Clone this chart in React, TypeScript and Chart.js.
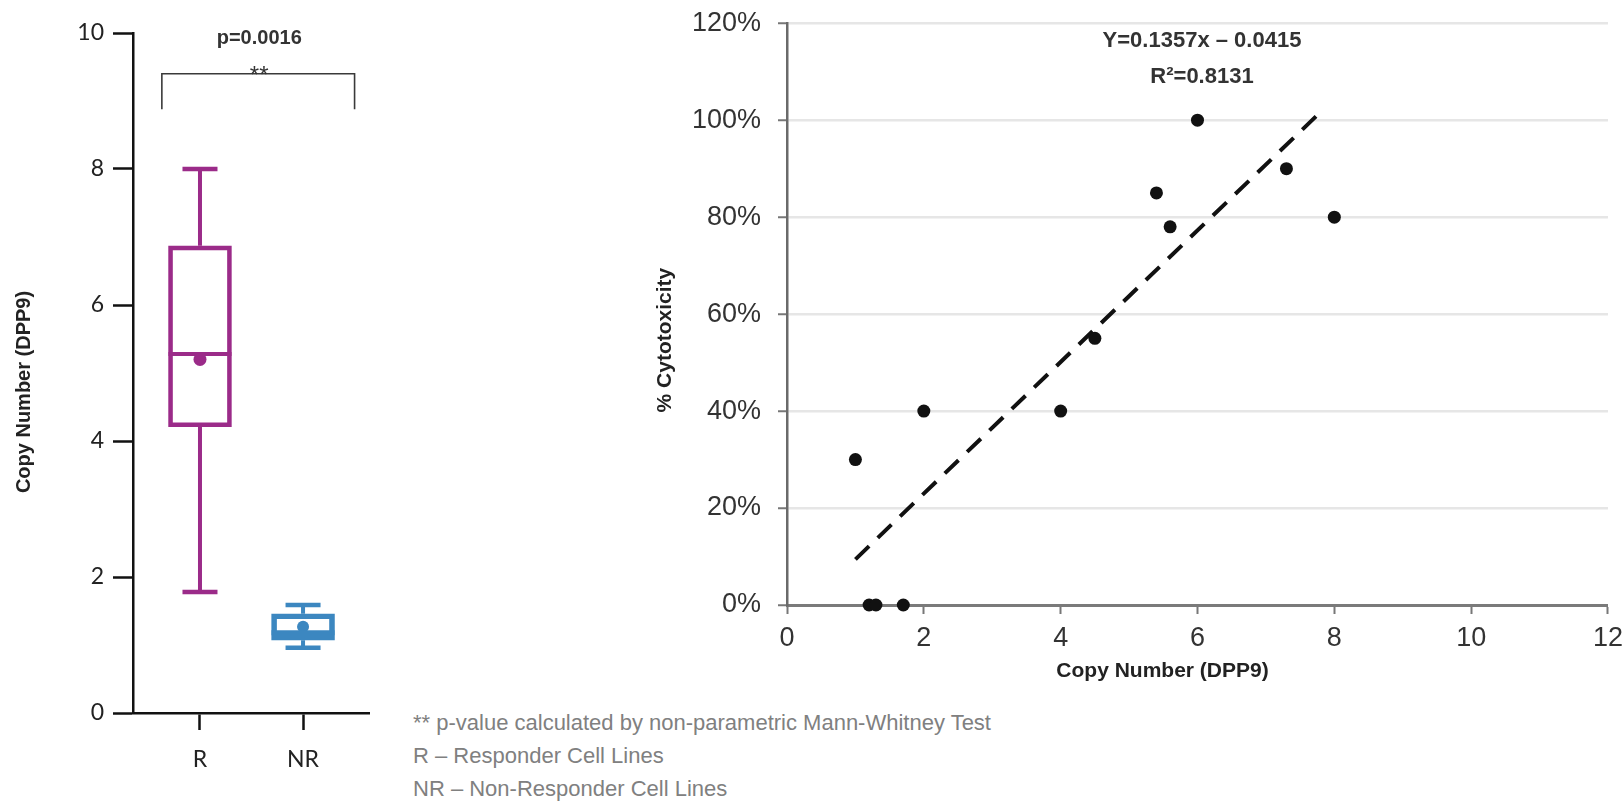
import React, { useEffect, useRef } from "react";
import { Chart, registerables } from "chart.js";

Chart.register(...registerables);

// ---------- Box plot (left) data ----------
const groups = ["R", "NR"];
const groupPos = [1, 2];
const whiskerMin = [1.78, 0.96];
const q1 = [4.21, 1.07];
const median = [5.28, 1.18];
const q3 = [6.87, 1.46];
const whiskerMax = [8.0, 1.59];
const means = [5.2, 1.27];
const groupColors = ["#9b2b89", "#3c87c0"];
const boxYTicks = [0, 2, 4, 6, 8, 10];
const boxYTitle = "Copy Number (DPP9)";
const pValueText = "p=0.0016";
const sigText = "**";
// bracket in data units
const bracketX = [0.63, 2.5];
const bracketY = 9.4;
const bracketLegY = 8.88;

// ---------- Scatter (right) data ----------
const copyNumber = [1, 1.2, 1.3, 1.7, 2, 4, 4.5, 5.4, 5.6, 6, 7.3, 8];
const cytotoxicity = [30, 0, 0, 0, 40, 40, 55, 85, 78, 100, 90, 80];
const fitSlope = 0.1357;
const fitIntercept = -0.0415;
const fitRange = [1, 7.85];
const scatterXTicks = [0, 2, 4, 6, 8, 10, 12];
const scatterYTicks = [0, 20, 40, 60, 80, 100, 120];
const scatterXTitle = "Copy Number (DPP9)";
const scatterYTitle = "% Cytotoxicity";
const equationText = "Y=0.1357x \u2013 0.0415";
const r2Text = "R\u00b2=0.8131";

const footnotes = [
  "** p-value calculated by non-parametric Mann-Whitney Test",
  "R \u2013 Responder Cell Lines",
  "NR \u2013 Non-Responder Cell Lines",
];

const SANS = '"Liberation Sans", Arial, sans-serif';
const CAL = 'Lato, "Open Sans", sans-serif';

function BoxChart() {
  const ref = useRef<HTMLCanvasElement>(null);
  useEffect(() => {
    if (!ref.current) return;
    const extras = {
      id: "boxExtras",
      beforeDatasetsDraw(chart: any) {
        const { ctx, scales } = chart;
        const x = scales.x, y = scales.y;
        ctx.save();
        groups.forEach((_, i) => {
          const px = x.getPixelForValue(groupPos[i]);
          ctx.strokeStyle = groupColors[i];
          ctx.lineWidth = 4;
          ctx.beginPath();
          ctx.moveTo(px, y.getPixelForValue(q3[i]));
          ctx.lineTo(px, y.getPixelForValue(whiskerMax[i]));
          ctx.moveTo(px, y.getPixelForValue(q1[i]));
          ctx.lineTo(px, y.getPixelForValue(whiskerMin[i]));
          ctx.stroke();
          ctx.lineWidth = 4.5;
          ctx.beginPath();
          ctx.moveTo(px - 17.5, y.getPixelForValue(whiskerMax[i]));
          ctx.lineTo(px + 17.5, y.getPixelForValue(whiskerMax[i]));
          ctx.moveTo(px - 17.5, y.getPixelForValue(whiskerMin[i]));
          ctx.lineTo(px + 17.5, y.getPixelForValue(whiskerMin[i]));
          ctx.stroke();
        });
        ctx.restore();
      },
      afterDatasetsDraw(chart: any) {
        const { ctx, scales, chartArea } = chart;
        const x = scales.x, y = scales.y;
        ctx.save();
        groups.forEach((_, i) => {
          const px = x.getPixelForValue(groupPos[i]);
          ctx.strokeStyle = groupColors[i];
          ctx.lineWidth = i === 0 ? 4 : 5;
          ctx.beginPath();
          ctx.moveTo(px - 31.5, y.getPixelForValue(median[i]));
          ctx.lineTo(px + 31.5, y.getPixelForValue(median[i]));
          ctx.stroke();
        });
        // significance bracket
        const bx0 = x.getPixelForValue(bracketX[0]);
        const bx1 = x.getPixelForValue(bracketX[1]);
        const by = y.getPixelForValue(bracketY);
        const byl = y.getPixelForValue(bracketLegY);
        ctx.strokeStyle = "#3a3a3a";
        ctx.lineWidth = 1.6;
        ctx.beginPath();
        ctx.moveTo(bx0, byl);
        ctx.lineTo(bx0, by);
        ctx.lineTo(bx1, by);
        ctx.lineTo(bx1, byl);
        ctx.stroke();
        const cx = (bx0 + bx1) / 2 + 1;
        ctx.fillStyle = "#333";
        ctx.textAlign = "center";
        ctx.textBaseline = "middle";
        ctx.font = `bold 20px ${SANS}`;
        ctx.fillText(pValueText, cx, chartArea.top + 5);
        ctx.textBaseline = "alphabetic";
        ctx.font = `24px ${SANS}`;
        ctx.fillText(sigText, cx, by + 9);
        // y title
        ctx.translate(24, (chartArea.top + chartArea.bottom) / 2 + 19);
        ctx.rotate(-Math.PI / 2);
        ctx.textBaseline = "middle";
        ctx.font = `bold 20px ${SANS}`;
        ctx.fillStyle = "#222";
        ctx.fillText(boxYTitle, 0, 0);
        ctx.restore();
      },
    };

    const chart = new Chart(ref.current, {
      type: "bar",
      data: {
        datasets: [
          {
            type: "bar",
            data: groups.map((_, i) => ({ x: groupPos[i], y: [q1[i], q3[i]] })) as any,
            backgroundColor: "rgba(255,255,255,0)",
            borderColor: groupColors,
            borderWidth: [4, 5] as any,
            borderSkipped: false,
            barThickness: 63,
            order: 2,
          } as any,
          {
            type: "scatter",
            data: groups.map((_, i) => ({ x: groupPos[i], y: means[i] })),
            pointBackgroundColor: groupColors,
            pointBorderColor: groupColors,
            pointRadius: [6.5, 6],
            pointBorderWidth: 0,
            order: 1,
          } as any,
        ],
      },
      options: {
        responsive: false,
        animation: false,
        layout: { padding: { top: 33, right: 31, left: 0, bottom: 0 } },
        plugins: { legend: { display: false }, tooltip: { enabled: false } },
        scales: {
          x: {
            type: "linear",
            min: 0.35,
            max: 2.64,
            offset: false,
            afterFit: (s: any) => { s.height = 89; },
            afterBuildTicks: (s: any) => { s.ticks = groupPos.map((v) => ({ value: v })); },
            grid: { offset: false, drawOnChartArea: false, tickLength: 17, tickWidth: 2.5, tickColor: "#111" },
            border: { color: "#111", width: 2.5 },
            ticks: {
              callback: (v: any) => groups[groupPos.indexOf(Number(v))] ?? "",
              font: { family: CAL, size: 23 },
              color: "#222",
              padding: 16,
              maxRotation: 0,
            },
          },
          y: {
            min: 0,
            max: 10,
            afterFit: (s: any) => { s.width = 133; },
            afterBuildTicks: (s: any) => { s.ticks = boxYTicks.map((v) => ({ value: v })); },
            grid: { drawOnChartArea: false, tickLength: 20, tickWidth: 2.5, tickColor: "#111" },
            border: { color: "#111", width: 2.5 },
            ticks: { font: { family: CAL, size: 23 }, color: "#222", padding: 9 },
          },
        },
      } as any,
      plugins: [extras],
    });
    return () => chart.destroy();
  }, []);
  return (
    <canvas
      ref={ref}
      width={400}
      height={802}
      style={{ position: "absolute", left: 0, top: 0, width: 400, height: 802 }}
    />
  );
}

function ScatterChart() {
  const ref = useRef<HTMLCanvasElement>(null);
  useEffect(() => {
    if (!ref.current) return;
    const extras = {
      id: "scatterExtras",
      afterDraw(chart: any) {
        const { ctx, chartArea } = chart;
        ctx.save();
        ctx.fillStyle = "#222";
        ctx.textAlign = "center";
        ctx.textBaseline = "middle";
        ctx.font = `bold 21px ${SANS}`;
        ctx.fillText(scatterXTitle, (chartArea.left + chartArea.right) / 2 - 35, chartArea.bottom + 66);
        ctx.fillStyle = "#333";
        ctx.font = `bold 22px ${SANS}`;
        ctx.fillText(equationText, chartArea.left + 415, chartArea.top + 18);
        ctx.fillText(r2Text, chartArea.left + 415, chartArea.top + 54);
        ctx.fillStyle = "#222";
        ctx.font = `bold 21px ${SANS}`;
        ctx.translate(chartArea.left - 122, (chartArea.top + chartArea.bottom) / 2 + 26);
        ctx.rotate(-Math.PI / 2);
        ctx.fillText(scatterYTitle, 0, 0);
        ctx.restore();
      },
    };
    const fitLine = fitRange.map((v) => ({ x: v, y: (fitSlope * v + fitIntercept) * 100 }));
    const chart = new Chart(ref.current, {
      type: "scatter",
      data: {
        datasets: [
          {
            type: "line",
            data: fitLine,
            borderColor: "#111",
            borderWidth: 4,
            borderDash: [19, 12],
            pointRadius: 0,
            fill: false,
            order: 2,
          } as any,
          {
            type: "scatter",
            data: copyNumber.map((v, i) => ({ x: v, y: cytotoxicity[i] })),
            pointBackgroundColor: "#111",
            pointBorderColor: "#111",
            pointRadius: 6.5,
            pointBorderWidth: 0,
            clip: false,
            order: 1,
          } as any,
        ],
      },
      options: {
        responsive: false,
        animation: false,
        layout: { padding: { top: 23, right: 19, left: 0, bottom: 0 } },
        plugins: { legend: { display: false }, tooltip: { enabled: false } },
        scales: {
          x: {
            type: "linear",
            min: 0,
            max: 12,
            afterFit: (s: any) => { s.height = 95; },
            afterBuildTicks: (s: any) => { s.ticks = scatterXTicks.map((v) => ({ value: v })); },
            grid: { drawOnChartArea: false, tickLength: 9, tickWidth: 2, tickColor: "#777" },
            border: { color: "#7a7a7a", width: 3 },
            ticks: { font: { family: SANS, size: 27 }, color: "#333", padding: 8, maxRotation: 0 },
          },
          y: {
            min: 0,
            max: 120,
            afterFit: (s: any) => { s.width = 187; },
            afterBuildTicks: (s: any) => { s.ticks = scatterYTicks.map((v) => ({ value: v })); },
            grid: {
              color: (c: any) => (c.tick && c.tick.value === 0 ? "rgba(0,0,0,0)" : "#e6e6e6"),
              lineWidth: 2.5,
              tickLength: 9,
              tickWidth: 2,
              tickColor: "#777",
            },
            border: { color: "#6a6a6a", width: 2.5 },
            ticks: {
              callback: (v: any) => `${v}%`,
              font: { family: SANS, size: 27 },
              color: "#333",
              padding: 17,
            },
          },
        },
      } as any,
      plugins: [extras],
    });
    return () => chart.destroy();
  }, []);
  return (
    <canvas
      ref={ref}
      width={1031}
      height={710}
      style={{ position: "absolute", left: 600, top: -10, width: 1031, height: 710 }}
    />
  );
}

export default function App() {
  return (
    <div
      style={{
        position: "fixed",
        left: 0,
        top: 0,
        width: 1624,
        height: 802,
        background: "#ffffff",
        overflow: "hidden",
      }}
    >
      <BoxChart />
      <ScatterChart />
      <div
        style={{
          position: "absolute",
          left: 413,
          top: 706,
          fontFamily: SANS,
          fontSize: 22,
          lineHeight: "33px",
          color: "#808080",
          whiteSpace: "nowrap",
        }}
      >
        {footnotes.map((t, i) => (
          <div key={i}>{t}</div>
        ))}
      </div>
    </div>
  );
}
